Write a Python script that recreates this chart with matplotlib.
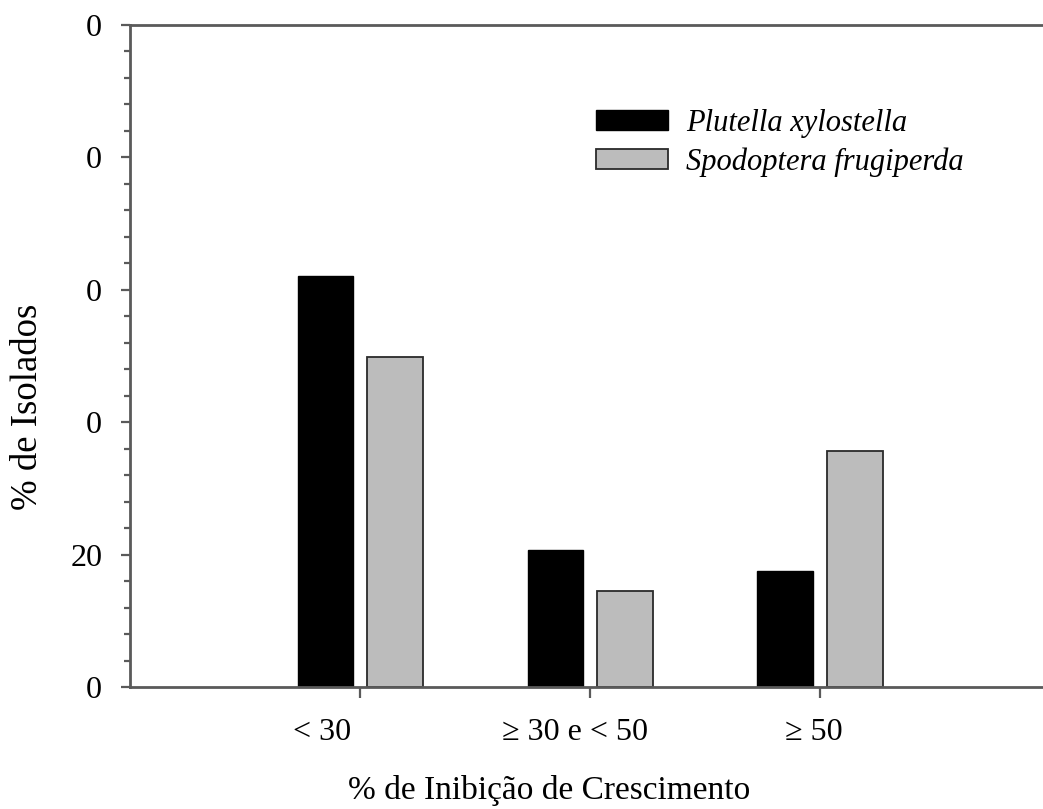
import numpy as np
import matplotlib.pyplot as plt
from matplotlib.ticker import MultipleLocator

categorias = ['< 30', '\u2265 30 e < 50', '\u2265 50']
plutella = [62.1, 20.7, 17.5]
spodoptera = [49.8, 14.5, 35.6]
y_ticks = [0, 20, 40, 60, 80, 100]
y_labels = ['0', '20', '0', '0', '0', '0']
# the category labels sit a little left of their ticks in the original
label_x = [-0.167, 0.935, 1.974]

plt.rcParams['font.family'] = ['Liberation Serif', 'DejaVu Serif']

fig = plt.figure(figsize=(10.43, 8.09), dpi=100)
ax = fig.add_axes([130 / 1043, 1 - 687 / 809, 913 / 1043, 662 / 809])

x = np.arange(len(categorias))
w = 0.243
ax.bar(x - 0.15, plutella, w, color='black', edgecolor='black', linewidth=1,
       label='Plutella xylostella')
ax.bar(x + 0.152, spodoptera, w, color='#bcbcbc', edgecolor='#2a2a2a', linewidth=1.3,
       label='Spodoptera frugiperda')

ax.set_xlim(-1.0, 2.97)
ax.set_ylim(0, 100)
ax.set_xticks(x)
ax.set_xticklabels([])
for lx, txt in zip(label_x, categorias):
    ax.text(lx, -0.068, txt, transform=ax.get_xaxis_transform(),
            ha='center', va='center', fontsize=23)
ax.set_yticks(y_ticks)
ax.set_yticklabels(y_labels, fontsize=23)
ax.yaxis.set_minor_locator(MultipleLocator(4))

spine_c = '#5a5a5a'
for s in ['left', 'bottom', 'top']:
    ax.spines[s].set_color(spine_c)
    ax.spines[s].set_linewidth(2)
ax.spines['right'].set_visible(False)

ax.tick_params(axis='y', which='major', length=6.5, width=1.6, color=spine_c, pad=13.5)
ax.tick_params(axis='y', which='minor', length=4.3, width=1.6, color=spine_c)
ax.tick_params(axis='x', which='major', length=8, width=1.6, color=spine_c)

fig.text(28 / 1043, 1 - 407 / 809, '% de Isolados', fontsize=26.5,
         rotation=90, ha='center', va='center')
fig.text(549 / 1043, 1 - 790 / 809, '% de Inibição de Crescimento',
         fontsize=24, ha='center', va='center')

ax.legend(loc='upper left', bbox_to_anchor=(596 / 1043, 1 - 109 / 809),
          bbox_transform=fig.transFigure, frameon=False, borderpad=0,
          borderaxespad=0, prop={'style': 'italic', 'size': 22},
          handlelength=2.35, handleheight=0.65, handletextpad=0.59,
          labelspacing=0.3)

fig.savefig('out.png', dpi=100)
